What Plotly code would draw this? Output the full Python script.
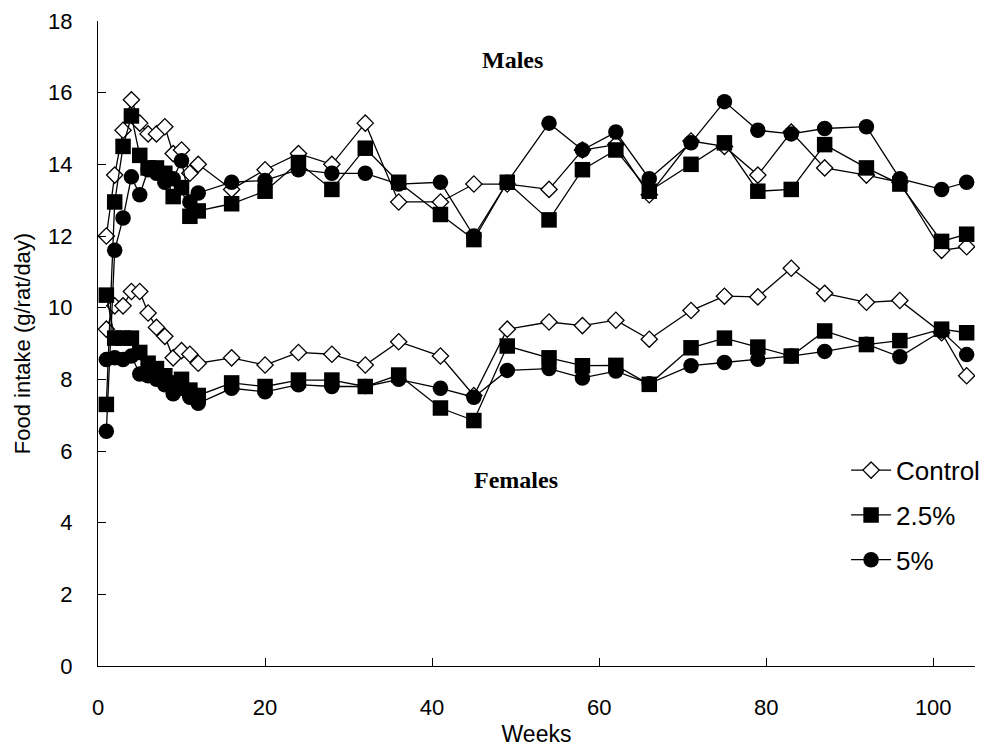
import plotly.graph_objects as go

weeks = [1, 2, 3, 4, 5, 6, 7, 8, 9, 10, 11, 12, 16, 20, 24, 28, 32, 36, 41, 45,
         49, 54, 58, 62, 66, 71, 75, 79, 83, 87, 92, 96, 101, 104]

male_control = [12.0, 13.7, 14.95, 15.8, 15.15, 14.85, 14.85, 15.05, 14.3, 14.4, 13.75, 14.0,
                13.3, 13.85, 14.3, 14.0, 15.15, 12.95, 12.95, 13.45, 13.45, 13.3, 14.4, 14.55,
                13.15, 14.65, 14.5, 13.7, 14.9, 13.9, 13.7, 13.5, 11.6, 11.7]
male_25 = [7.3, 12.95, 14.5, 15.35, 14.25, 13.9, 13.9, 13.75, 13.1, 13.35, 12.55, 12.7,
           12.9, 13.25, 14.05, 13.3, 14.45, 13.5, 12.6, 11.9, 13.5, 12.45, 13.85, 14.4,
           13.25, 14.0, 14.6, 13.25, 13.3, 14.55, 13.9, 13.45, 11.85, 12.05]
male_5 = [6.55, 11.6, 12.5, 13.65, 13.15, 13.85, 13.75, 13.5, 13.6, 14.1, 12.95, 13.2,
          13.5, 13.55, 13.85, 13.75, 13.75, 13.45, 13.5, 12.0, 13.5, 15.15, 14.4, 14.9,
          13.6, 14.6, 15.75, 14.95, 14.85, 15.0, 15.05, 13.6, 13.3, 13.5]

female_control = [9.4, 10.05, 10.05, 10.45, 10.45, 9.85, 9.45, 9.2, 8.6, 8.8, 8.7, 8.45,
                  8.6, 8.4, 8.75, 8.7, 8.4, 9.05, 8.65, 7.55, 9.4, 9.6, 9.5, 9.65,
                  9.12, 9.92, 10.32, 10.3, 11.1, 10.4, 10.15, 10.2, 9.3, 8.1]
female_25 = [10.35, 9.15, 9.15, 9.15, 8.75, 8.45, 8.3, 8.1, 7.9, 8.0, 7.7, 7.55,
             7.9, 7.8, 7.98, 7.98, 7.8, 8.12, 7.2, 6.85, 8.93, 8.6, 8.38, 8.39,
             7.86, 8.88, 9.15, 8.9, 8.65, 9.35, 8.97, 9.08, 9.4, 9.3]
female_5 = [8.55, 8.6, 8.55, 8.65, 8.15, 8.1, 8.0, 7.85, 7.6, 7.75, 7.5, 7.33,
            7.75, 7.65, 7.85, 7.8, 7.8, 8.0, 7.75, 7.5, 8.25, 8.3, 8.04, 8.23,
            7.88, 8.38, 8.47, 8.56, 8.65, 8.78, 8.98, 8.63, 9.35, 8.69]

series_names = ["Control", "2.5%", "5%"]
y_ticks = [0, 2, 4, 6, 8, 10, 12, 14, 16, 18]
x_ticks = [0, 20, 40, 60, 80, 100]

FONT = "Liberation Sans, Arial, sans-serif"
SERIF = "Liberation Serif, Times New Roman, serif"

styles = {
    "Control": dict(symbol="diamond", size=12.5, color="white", line=dict(color="black", width=1.3)),
    "2.5%": dict(symbol="square", size=15.5, color="black", line=dict(color="black", width=0)),
    "5%": dict(symbol="circle", size=15.5, color="black", line=dict(color="black", width=0)),
}

fig = go.Figure()
data_sets = [("Control", male_control, female_control),
             ("2.5%", male_25, female_25),
             ("5%", male_5, female_5)]

for name, male, female in data_sets:
    for i, vals in enumerate([male, female]):
        fig.add_trace(go.Scatter(
            x=weeks, y=vals, mode="lines+markers", name=name,
            legendgroup=name, showlegend=(i == 0),
            line=dict(color="black", width=1.3),
            marker=styles[name],
        ))

fig.add_annotation(x=49.6, y=16.9, text="<b>Males</b>", showarrow=False,
                   font=dict(family=SERIF, size=24, color="black"))
fig.add_annotation(x=50.0, y=5.2, text="<b>Females</b>", showarrow=False,
                   font=dict(family=SERIF, size=24, color="black"))

# the page body has an 8 px margin, so the figure is sized and placed to fit it
fig.update_layout(
    width=982, height=739,
    margin=dict(l=90, r=15, t=13, b=81, autoexpand=False),
    paper_bgcolor="white", plot_bgcolor="white",
    font=dict(family=FONT, size=22, color="black"),
    showlegend=True,
    legend=dict(x=0.853, y=0.34, xanchor="left", yanchor="top",
                bgcolor="rgba(0,0,0,0)", font=dict(size=26),
                traceorder="grouped", tracegroupgap=8, itemwidth=40),
    xaxis=dict(range=[0, 105], tickvals=x_ticks, ticks="inside", ticklen=8,
               tickwidth=1.3, tickcolor="black", showline=True, linecolor="black",
               linewidth=1.3, showgrid=False, zeroline=False, ticklabelstandoff=21,
               automargin=False, tickfont=dict(size=22), ticklabeloverflow="allow",
               title=dict(text="Weeks", standoff=15, font=dict(size=23))),
    yaxis=dict(range=[0, 18], tickvals=y_ticks, ticks="inside", ticklen=8,
               tickwidth=1.3, tickcolor="black", showline=True, linecolor="black",
               linewidth=1.3, showgrid=False, zeroline=False, ticklabelstandoff=20,
               automargin=False, tickfont=dict(size=22), ticklabeloverflow="allow",
               title=dict(text="Food intake (g/rat/day)", standoff=11, font=dict(size=22))),
)

fig.write_html("out.html")
